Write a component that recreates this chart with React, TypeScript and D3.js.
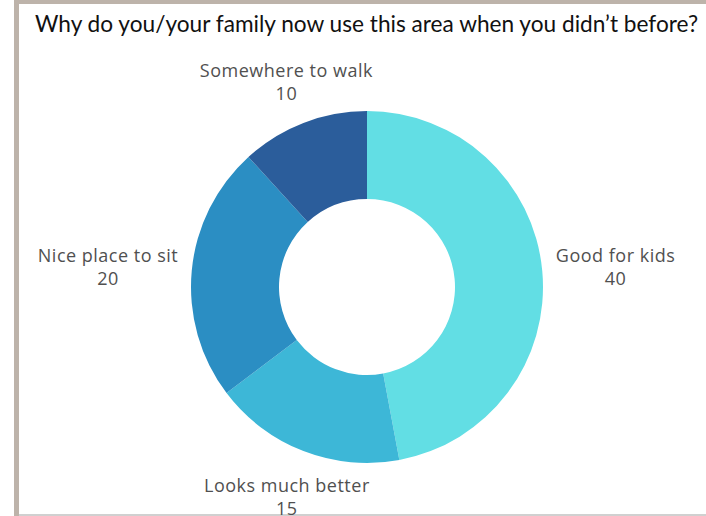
import React from 'react';
import * as d3 from 'd3';

const title = 'Why do you/your family now use this area when you didn’t before?';
const categories = ['Good for kids', 'Looks much better', 'Nice place to sit', 'Somewhere to walk'];
const values = [40, 15, 20, 10];
const colors = ['#62dee4', '#3db7d7', '#2b8ec3', '#2b5d9b'];

const W = 706;
const H = 516;
const LABEL_SIZE = 18;
const LABEL_SPACING = 0.5;
const LABEL_FONT = `${LABEL_SIZE}px "Open Sans"`;

function measure(text: string, font: string, spacing: number): number {
  if (typeof document === 'undefined') return text.length * 10;
  const c = document.createElement('canvas');
  const ctx = c.getContext('2d');
  if (!ctx) return text.length * 10;
  ctx.font = font;
  return ctx.measureText(text).width + spacing * text.length;
}

export default function App() {
  const cx = 367;
  const cy = 287;
  const outer = 176;
  const inner = 88;

  const pie = d3.pie<number>().sort(null).value((d) => d);
  const arcs = pie(values);
  const arcGen = d3.arc<d3.PieArcDatum<number>>().innerRadius(inner).outerRadius(outer);

  return (
    <svg
      width={W}
      height={H}
      style={{ position: 'absolute', left: 0, top: 0, background: '#ffffff' }}
    >
      <rect x={0} y={0} width={W} height={H} fill="#ffffff" />
      <rect x={14} y={0} width={5} height={H} fill="#bdb3aa" />
      <rect x={14} y={0} width={W - 14} height={4} fill="#bdb3aa" />
      <rect x={19} y={514} width={W - 19} height={2} fill="#d0d0d0" />

      <text
        x={35}
        y={32}
        fontFamily="Lato, 'Open Sans', sans-serif"
        fontSize={22.65}
        fill="#111111"
      >
        {title}
      </text>

      <g transform={`translate(${cx},${cy})`}>
        {arcs.map((a, i) => (
          <path key={categories[i]} d={arcGen(a) || ''} fill={colors[i]} />
        ))}
      </g>

      {arcs.map((a, i) => {
        const mid = (a.startAngle + a.endAngle) / 2;
        const w = measure(categories[i], LABEL_FONT, LABEL_SPACING);
        const R = outer + 14 + (w / 2) * Math.abs(Math.sin(mid)) + 2 * Math.abs(Math.cos(mid));
        const x = cx + R * Math.sin(mid);
        const y = cy - R * Math.cos(mid) + 4;
        return (
          <g
            key={'l' + i}
            fontFamily="'Open Sans', sans-serif"
            fontSize={LABEL_SIZE}
            letterSpacing={LABEL_SPACING}
            fill="#505050"
            textAnchor="middle"
          >
            <text x={x} y={y - 11.5 + 6}>{categories[i]}</text>
            <text x={x} y={y + 11.5 + 6}>{values[i]}</text>
          </g>
        );
      })}
    </svg>
  );
}
